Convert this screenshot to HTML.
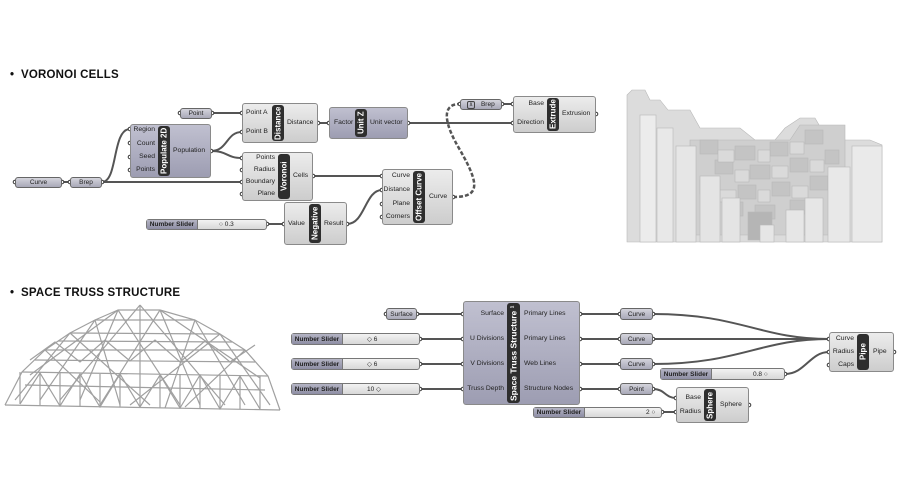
<!DOCTYPE html>
<html><head><meta charset="utf-8"><style>
body{margin:0;width:900px;height:500px;background:#fff;position:relative;overflow:hidden;font-family:"Liberation Sans",sans-serif;}
.t{position:absolute;font-weight:900;font-size:11.5px;color:#111;letter-spacing:0.2px}
.c{position:absolute;border:1px solid #8a8a8a;border-radius:3px;background:linear-gradient(#ececec,#cdcdcd);box-sizing:border-box}
.p{background:linear-gradient(#c0c0d0,#9d9db2)}
.s{position:absolute;background:#2e2e2e;border-radius:3px;color:#fff;font-weight:bold;font-size:8px;writing-mode:vertical-rl;transform:rotate(180deg);display:flex;align-items:center;justify-content:center;white-space:nowrap}
.l{position:absolute;font-size:6.8px;color:#222;white-space:nowrap}
.r{text-align:right}
.pm{position:absolute;border:1px solid #666;border-radius:3px;background:linear-gradient(#d4d4dc,#a9a9b8);font-size:6.5px;color:#222;display:flex;align-items:center;justify-content:center;box-sizing:border-box}
.sl{position:absolute;border:1px solid #777;border-radius:3px;background:linear-gradient(#f2f2f2,#d8d8d8);box-sizing:border-box;font-size:6.5px;color:#222}
.sl .a{position:absolute;left:0;top:0;bottom:0;width:50px;background:linear-gradient(#b4b4c4,#8e8ea4);border-right:1px solid #777;display:flex;align-items:center;justify-content:center;font-weight:bold;color:#222}
.sl .v{position:absolute;top:0;bottom:0;display:flex;align-items:center}
</style></head><body>
<div class="t" style="left:10px;top:69px">•&nbsp; VORONOI CELLS</div>
<div class="t" style="left:10px;top:287px">•&nbsp; SPACE TRUSS STRUCTURE</div>

<svg width="900" height="500" style="position:absolute;left:0;top:0">
<g fill="none" stroke="#555" stroke-width="2">
<path d="M62 182 H70"/>
<path d="M102 182 C118 182,112 129,130 129"/>
<path d="M102 182 H242 " />
<path d="M212 113 H242"/>
<path d="M211 151 C228 151,226 132,242 132"/>
<path d="M211 151 C228 151,226 158,242 158"/>
<path d="M318 123 H329"/>
<path d="M408 123 H513"/>
<path d="M502 104 H513"/>
<path d="M313 176 H382"/>
<path d="M267 224 H284"/>
<path d="M347 224 C365 224,365 190,382 190"/>
<path d="M453 197 C480 197,480 185,460 150 C445 125,440 104,460 104" stroke-dasharray="4 2" stroke-width="2.5"/>
<path d="M417 314 H463"/><path d="M420 339 H463"/><path d="M420 364 H463"/><path d="M420 389 H463"/>
<path d="M580 314 H620"/><path d="M580 339 H620"/><path d="M580 364 H620"/><path d="M580 389 H620"/>
<path d="M653 314 C740 314,760 339,829 339"/>
<path d="M653 339 H829"/>
<path d="M653 364 C740 364,760 339,829 339"/>
<path d="M785 374 C805 374,810 352,829 352"/>
<path d="M653 389 C665 389,665 398,676 398"/>
<path d="M662 412 H676"/>
</g>
<g fill="#fff" stroke="#333" stroke-width="1">
<circle cx="15" cy="182" r="1.8"/><circle cx="62" cy="182" r="1.8"/><circle cx="70" cy="182" r="1.8"/><circle cx="102" cy="182" r="1.8"/>
<circle cx="180" cy="113" r="1.8"/><circle cx="212" cy="113" r="1.8"/>
<circle cx="130" cy="129" r="1.8"/><circle cx="130" cy="143" r="1.8"/><circle cx="130" cy="157" r="1.8"/><circle cx="130" cy="170" r="1.8"/><circle cx="211" cy="151" r="1.8"/>
<circle cx="242" cy="113" r="1.8"/><circle cx="242" cy="132" r="1.8"/><circle cx="318" cy="123" r="1.8"/>
<circle cx="242" cy="158" r="1.8"/><circle cx="242" cy="170" r="1.8"/><circle cx="242" cy="182" r="1.8"/><circle cx="242" cy="194" r="1.8"/><circle cx="313" cy="176" r="1.8"/>
<circle cx="329" cy="123" r="1.8"/><circle cx="408" cy="123" r="1.8"/>
<circle cx="460" cy="104" r="1.8"/><circle cx="502" cy="104" r="1.8"/><circle cx="513" cy="104" r="1.8"/><circle cx="513" cy="123" r="1.8"/><circle cx="596" cy="114" r="1.8"/>
<circle cx="382" cy="176" r="1.8"/><circle cx="382" cy="190" r="1.8"/><circle cx="382" cy="204" r="1.8"/><circle cx="382" cy="217" r="1.8"/><circle cx="453" cy="197" r="1.8"/>
<circle cx="267" cy="224" r="1.8"/><circle cx="284" cy="224" r="1.8"/><circle cx="347" cy="224" r="1.8"/>
<circle cx="386" cy="314" r="1.8"/><circle cx="417" cy="314" r="1.8"/><circle cx="420" cy="339" r="1.8"/><circle cx="420" cy="364" r="1.8"/><circle cx="420" cy="389" r="1.8"/>
<circle cx="463" cy="314" r="1.8"/><circle cx="463" cy="339" r="1.8"/><circle cx="463" cy="364" r="1.8"/><circle cx="463" cy="389" r="1.8"/>
<circle cx="580" cy="314" r="1.8"/><circle cx="580" cy="339" r="1.8"/><circle cx="580" cy="364" r="1.8"/><circle cx="580" cy="389" r="1.8"/>
<circle cx="620" cy="314" r="1.8"/><circle cx="653" cy="314" r="1.8"/><circle cx="620" cy="339" r="1.8"/><circle cx="653" cy="339" r="1.8"/><circle cx="620" cy="364" r="1.8"/><circle cx="653" cy="364" r="1.8"/><circle cx="620" cy="389" r="1.8"/><circle cx="653" cy="389" r="1.8"/>
<circle cx="829" cy="339" r="1.8"/><circle cx="829" cy="352" r="1.8"/><circle cx="829" cy="365" r="1.8"/><circle cx="894" cy="352" r="1.8"/>
<circle cx="785" cy="374" r="1.8"/><circle cx="676" cy="398" r="1.8"/><circle cx="676" cy="412" r="1.8"/><circle cx="662" cy="412" r="1.8"/><circle cx="749" cy="405" r="1.8"/>
</g>
<!-- voronoi render -->
<g stroke="#b8b8b8" stroke-width="0.6">
<path d="M627 242 V95 L632 90 H645 L650 100 H660 L668 110 H690 L700 128 H740 L755 140 H775 L785 128 L800 118 H815 L822 130 H840 L845 140 H870 L882 145 V242 Z" fill="#dcdcdc"/>
<path d="M690 140 H790 L800 125 H845 V235 H690 Z" fill="#cfcfcf"/>
<g fill="#c4c4c4">
<rect x="700" y="140" width="18" height="14"/><rect x="735" y="146" width="20" height="14"/><rect x="770" y="142" width="18" height="14"/><rect x="805" y="130" width="18" height="14"/>
<rect x="715" y="160" width="18" height="14"/><rect x="750" y="165" width="20" height="14"/><rect x="790" y="158" width="18" height="14"/><rect x="825" y="150" width="14" height="14"/>
<rect x="700" y="180" width="20" height="14"/><rect x="738" y="185" width="18" height="14"/><rect x="772" y="182" width="18" height="14"/><rect x="810" y="176" width="18" height="14"/>
<rect x="725" y="202" width="18" height="14"/><rect x="755" y="205" width="20" height="14"/><rect x="790" y="200" width="16" height="14"/>
</g>
<g fill="#dadada">
<rect x="718" y="150" width="16" height="12"/><rect x="758" y="150" width="12" height="12"/><rect x="790" y="142" width="14" height="12"/>
<rect x="735" y="170" width="14" height="12"/><rect x="772" y="166" width="16" height="12"/><rect x="810" y="160" width="14" height="12"/>
<rect x="720" y="190" width="16" height="12"/><rect x="758" y="190" width="12" height="12"/><rect x="792" y="186" width="16" height="12"/>
</g>
<rect x="748" y="212" width="24" height="28" fill="#b5b5b5"/>
<rect x="640" y="115" width="16" height="127" fill="#ececec"/>
<rect x="657" y="128" width="16" height="114" fill="#e8e8e8"/>
<rect x="676" y="146" width="20" height="96" fill="#e6e6e6"/>
<rect x="700" y="176" width="20" height="66" fill="#e4e4e4"/>
<rect x="722" y="198" width="18" height="44" fill="#e4e4e4"/>
<rect x="760" y="225" width="14" height="17" fill="#e6e6e6"/>
<rect x="786" y="210" width="18" height="32" fill="#e6e6e6"/>
<rect x="805" y="198" width="18" height="44" fill="#e6e6e6"/>
<rect x="828" y="167" width="22" height="75" fill="#e8e8e8"/>
<rect x="852" y="146" width="30" height="96" fill="#eaeaea"/>
</g>
<!-- truss -->
<g fill="none" stroke="#a0a0a0" stroke-width="1.2">
<path d="M5 405 L280 410 M25 385 L265 390 M22 372 L268 376 M45 350 L245 350 M70 333 L220 334 M95 320 L195 320 M118 310 L160 310 M35 360 L255 362 M58 341 L232 342"/>
<path d="M5 405 L22 372 L45 350 L70 333 L95 320 L118 310 M280 410 L268 376 L245 350 L220 334 L195 320 L160 310"/>
<path d="M118 310 L80 400 M140 305 L140 408 M160 310 L200 405 M95 320 L40 400 M195 320 L245 405 M70 333 L15 400 M220 334 L270 405"/>
<path d="M118 310 L30 375 M160 310 L260 378 M140 305 L60 400 M140 305 L225 405 M95 320 L120 405 M195 320 L165 408 M45 350 L100 402 M245 350 L185 407 M118 310 L180 405 M160 310 L100 405 M70 333 L150 405 M220 334 L130 405"/>
<path d="M20 372 V404 M40 372 V405 M60 373 V406 M80 374 V406 M100 374 V407 M120 374 V407 M160 375 V408 M180 375 V408 M200 375 V408 M220 375 V409 M240 376 V409 M260 376 V409"/>
<path d="M20 404 L40 373 L60 406 L80 374 L100 407 L120 374 L140 407 L160 375 L180 408 L200 375 L220 409 L240 376 L260 409"/>
<path d="M30 360 L55 342 L80 362 L105 340 L130 361 L155 340 L180 362 L205 341 L230 362 L255 345"/>
</g>
</svg>

<!-- top components -->
<div class="pm" style="left:15px;top:177px;width:47px;height:11px">Curve</div>
<div class="pm" style="left:70px;top:177px;width:32px;height:11px">Brep</div>
<div class="pm" style="left:180px;top:108px;width:32px;height:11px">Point</div>

<div class="c p" style="left:130px;top:124px;width:81px;height:54px"></div>
<div class="s" style="left:158px;top:126px;width:12px;height:50px">Populate 2D</div>
<div class="l r" style="left:130px;top:126px;width:25px">Region</div>
<div class="l r" style="left:130px;top:140px;width:25px">Count</div>
<div class="l r" style="left:130px;top:153px;width:25px">Seed</div>
<div class="l r" style="left:130px;top:166px;width:25px">Points</div>
<div class="l" style="left:173px;top:147px">Population</div>

<div class="c" style="left:242px;top:103px;width:76px;height:40px"></div>
<div class="s" style="left:272px;top:105px;width:12px;height:36px">Distance</div>
<div class="l" style="left:246px;top:109px">Point A</div>
<div class="l" style="left:246px;top:128px">Point B</div>
<div class="l" style="left:287px;top:119px">Distance</div>

<div class="c" style="left:242px;top:152px;width:71px;height:49px"></div>
<div class="s" style="left:278px;top:154px;width:12px;height:45px">Voronoi</div>
<div class="l r" style="left:242px;top:154px;width:33px">Points</div>
<div class="l r" style="left:242px;top:166px;width:33px">Radius</div>
<div class="l r" style="left:242px;top:178px;width:33px">Boundary</div>
<div class="l r" style="left:242px;top:190px;width:33px">Plane</div>
<div class="l" style="left:293px;top:172px">Cells</div>

<div class="c p" style="left:329px;top:107px;width:79px;height:32px"></div>
<div class="s" style="left:355px;top:109px;width:12px;height:28px">Unit Z</div>
<div class="l" style="left:334px;top:119px">Factor</div>
<div class="l" style="left:370px;top:119px">Unit vector</div>

<div class="pm" style="left:460px;top:99px;width:42px;height:11px"><span style="border:1px solid #444;border-radius:2px;font-size:5px;padding:0 1px;margin-right:6px">⊻</span>Brep</div>

<div class="c" style="left:513px;top:96px;width:83px;height:37px"></div>
<div class="s" style="left:547px;top:98px;width:12px;height:33px">Extrude</div>
<div class="l r" style="left:513px;top:100px;width:31px">Base</div>
<div class="l r" style="left:513px;top:119px;width:31px">Direction</div>
<div class="l" style="left:562px;top:110px">Extrusion</div>

<div class="c" style="left:382px;top:169px;width:71px;height:56px"></div>
<div class="s" style="left:413px;top:171px;width:12px;height:52px">Offset Curve</div>
<div class="l r" style="left:382px;top:172px;width:28px">Curve</div>
<div class="l r" style="left:382px;top:186px;width:28px">Distance</div>
<div class="l r" style="left:382px;top:200px;width:28px">Plane</div>
<div class="l r" style="left:382px;top:213px;width:28px">Corners</div>
<div class="l" style="left:429px;top:193px">Curve</div>

<div class="c" style="left:284px;top:202px;width:63px;height:43px"></div>
<div class="s" style="left:309px;top:204px;width:12px;height:39px">Negative</div>
<div class="l" style="left:288px;top:220px">Value</div>
<div class="l" style="left:324px;top:220px">Result</div>

<div class="sl" style="left:146px;top:219px;width:121px;height:11px"><div class="a">Number Slider</div><div class="v" style="left:72px">○ 0.3</div></div>

<!-- bottom components -->
<div class="pm" style="left:386px;top:308px;width:31px;height:12px">Surface</div>
<div class="sl" style="left:291px;top:333px;width:129px;height:12px"><div class="a">Number Slider</div><div class="v" style="left:75px">◇ 6</div></div>
<div class="sl" style="left:291px;top:358px;width:129px;height:12px"><div class="a">Number Slider</div><div class="v" style="left:75px">◇ 6</div></div>
<div class="sl" style="left:291px;top:383px;width:129px;height:12px"><div class="a">Number Slider</div><div class="v" style="left:75px">10 ◇</div></div>

<div class="c p" style="left:463px;top:301px;width:117px;height:104px"></div>
<div class="s" style="left:507px;top:303px;width:13px;height:100px;font-size:8.5px">Space Truss Structure ¹</div>
<div class="l r" style="left:463px;top:310px;width:41px">Surface</div>
<div class="l r" style="left:463px;top:335px;width:41px">U Divisions</div>
<div class="l r" style="left:463px;top:360px;width:41px">V Divisions</div>
<div class="l r" style="left:463px;top:385px;width:41px">Truss Depth</div>
<div class="l" style="left:524px;top:310px">Primary Lines</div>
<div class="l" style="left:524px;top:335px">Primary Lines</div>
<div class="l" style="left:524px;top:360px">Web Lines</div>
<div class="l" style="left:524px;top:385px">Structure Nodes</div>

<div class="pm" style="left:620px;top:308px;width:33px;height:12px">Curve</div>
<div class="pm" style="left:620px;top:333px;width:33px;height:12px">Curve</div>
<div class="pm" style="left:620px;top:358px;width:33px;height:12px">Curve</div>
<div class="pm" style="left:620px;top:383px;width:33px;height:12px">Point</div>

<div class="c" style="left:829px;top:332px;width:65px;height:40px"></div>
<div class="s" style="left:857px;top:334px;width:12px;height:36px">Pipe</div>
<div class="l r" style="left:829px;top:335px;width:25px">Curve</div>
<div class="l r" style="left:829px;top:348px;width:25px">Radius</div>
<div class="l r" style="left:829px;top:361px;width:25px">Caps</div>
<div class="l" style="left:873px;top:348px">Pipe</div>

<div class="sl" style="left:660px;top:368px;width:125px;height:12px"><div class="a">Number Slider</div><div class="v" style="left:92px">0.8 ○</div></div>

<div class="c" style="left:676px;top:387px;width:73px;height:36px"></div>
<div class="s" style="left:704px;top:389px;width:12px;height:32px">Sphere</div>
<div class="l r" style="left:676px;top:394px;width:25px">Base</div>
<div class="l r" style="left:676px;top:408px;width:25px">Radius</div>
<div class="l" style="left:720px;top:401px">Sphere</div>

<div class="sl" style="left:533px;top:407px;width:129px;height:11px"><div class="a">Number Slider</div><div class="v" style="left:112px">2 ○</div></div>
</body></html>
